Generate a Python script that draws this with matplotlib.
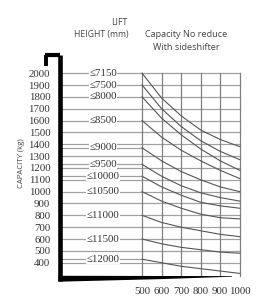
import matplotlib
matplotlib.use('Agg')
import matplotlib.pyplot as plt

# load chart values
load_centers = [500, 600, 700, 800, 900, 1000]
capacity_ticks = list(range(400, 2100, 100))
lift_heights = ['7150', '7500', '8000', '8500', '9000', '9500',
                '10000', '10500', '11000', '11500', '12000']
label_levels = [2000, 1900, 1800, 1600, 1370, 1230, 1130, 1000, 800, 600, 430]

# capacity (kg) at each load center, one row per lift height
cap_7150 = [2000, 1790, 1640, 1520, 1440, 1380]
cap_7500 = [1900, 1700, 1550, 1430, 1340, 1270]
cap_8000 = [1800, 1620, 1480, 1360, 1260, 1180]
cap_8500 = [1600, 1460, 1350, 1260, 1180, 1110]
cap_9000 = [1370, 1260, 1170, 1100, 1040, 1000]
cap_9500 = [1230, 1130, 1050, 990, 950, 920]
cap_10000 = [1130, 1040, 970, 910, 880, 860]
cap_10500 = [1000, 920, 860, 810, 780, 770]
cap_11000 = [800, 740, 700, 670, 640, 620]
cap_11500 = [600, 560, 530, 510, 490, 480]
cap_12000 = [430, 400, 370, 350, 330, 310]
curves = [cap_7150, cap_7500, cap_8000, cap_8500, cap_9000, cap_9500,
          cap_10000, cap_10500, cap_11000, cap_11500, cap_12000]

serif = 'Liberation Serif'
sans = 'Open Sans'
plt.rcParams['font.family'] = [serif, 'DejaVu Serif']

fig = plt.figure(figsize=(2.78, 3.03), dpi=100)
ax = fig.add_axes([0.2158, 0.066, 0.665, 0.759])
ax.set_xlim(80, 1026)
ax.set_ylim(229, 2170)

grid_col = '#a0a0a0'
# horizontal grid at each 100 kg
for c in capacity_ticks:
    ax.plot([80, 1000], [c, c], color=grid_col, lw=0.9, zorder=1)
# extra short lines for lift heights that are not on the grid
for lv in label_levels:
    if lv not in capacity_ticks:
        ax.plot([80, 500], [lv, lv], color=grid_col, lw=0.9, zorder=1)
# vertical grid at each load center
for x in load_centers:
    ax.plot([x, x], [285, 2000], color='#808080', lw=0.9, zorder=1)

# derating curves
for row in curves:
    ax.plot(load_centers, row, color='#555555', lw=0.8, zorder=2)

# lift height labels on the left lines
for h, lv in zip(lift_heights, label_levels):
    ax.text(300, lv, '\u2264' + h, ha='center', va='center', fontsize=7.8,
            color='#333333', zorder=3,
            bbox=dict(boxstyle='square,pad=0.05', fc='white', ec='none'))

# fork shape: mast, hook and blade
ax.plot([80, 80], [250, 2155], color='black', lw=3.3, solid_capstyle='butt',
        zorder=4, clip_on=False)
ax.plot([5, 82], [2155, 2155], color='black', lw=3.0, solid_capstyle='butt',
        zorder=4, clip_on=False)
ax.plot([7, 7], [2060, 2157], color='black', lw=2.8, solid_capstyle='butt',
        zorder=4, clip_on=False)
ax.fill([72, 960, 960, 600, 72], [290, 287, 282, 262, 240], color='black',
        zorder=4, clip_on=False, lw=0)

# ticks
ax.set_yticks(capacity_ticks)
ax.set_yticklabels([str(c) for c in capacity_ticks])
ax.set_xticks(load_centers)
ax.set_xticklabels([str(x) for x in load_centers])
ax.tick_params(length=0, pad=3, labelsize=7.8, labelcolor='#333333')
ax.tick_params(axis='y', pad=7)
for s in ax.spines.values():
    s.set_visible(False)

# headers
fig.text(0.428, 0.925, 'LIFT', ha='center', va='center', family=sans,
         fontsize=6.2, color='#444444')
fig.text(0.363, 0.885, 'HEIGHT (mm)', ha='center', va='center', family=sans,
         fontsize=6.2, color='#444444')
fig.text(0.67, 0.885, 'Capacity No reduce', ha='center', va='center',
         family=sans, fontsize=6.6, color='#444444')
fig.text(0.67, 0.842, 'With sideshifter', ha='center', va='center',
         family=sans, fontsize=6.6, color='#444444')
fig.text(0.079, 0.462, 'CAPACITY (kg)', ha='center', va='center',
         rotation=90, family=sans, fontsize=5.6, color='#444444')

fig.savefig('out.png', dpi=100, facecolor='white')
